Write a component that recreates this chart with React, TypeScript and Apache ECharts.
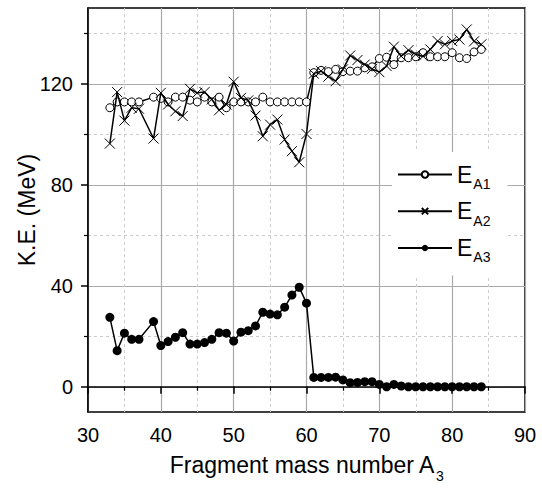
import React, { useEffect, useRef } from "react";
import * as echarts from "echarts";

// Fragment mass numbers (A = 38 is absent in the data)
const massA = [
  33, 34, 35, 36, 37, 39, 40, 41, 42, 43, 44, 45, 46, 47, 48, 49, 50, 51, 52, 53,
  54, 55, 56, 57, 58, 59, 60, 61, 62, 63, 64, 65, 66, 67, 68, 69, 70, 71, 72, 73,
  74, 75, 76, 77, 78, 79, 80, 81, 82, 83, 84,
];

const eA1 = [
  110.5, 112.8, 112.8, 112.8, 112.8, 114.7, 114.2, 112.8, 114.7, 114.7, 113.5, 112.8,
  114.7, 112.8, 114.7, 110.5, 112.8, 112.8, 112.8, 112.8, 114.7, 112.8, 112.8, 112.8,
  112.8, 112.8, 112.8, 124.4, 125.3, 124.8, 125.7, 124.8, 125.0, 125.0, 126.3, 126.7,
  130.0, 130.5, 127.6, 130.3, 130.3, 130.7, 132.3, 130.7, 130.7, 130.7, 132.3, 130.3,
  130.0, 132.6, 133.6,
];

const eA2 = [
  96.3, 116.7, 105.4, 110.5, 110.1, 98.3, 116.4, 111.8, 109.1, 107.2, 118.0, 116.4,
  116.7, 113.8, 109.5, 111.8, 120.8, 114.4, 113.4, 107.4, 99.2, 103.8, 105.8, 97.9,
  93.3, 88.9, 100.1, 124.0, 125.0, 122.8, 121.0, 125.7, 131.2, 129.4, 127.6, 125.9,
  124.6, 127.0, 134.7, 130.9, 133.3, 131.6, 130.9, 133.6, 136.9, 135.6, 136.9, 137.5,
  141.5, 136.8, 135.6,
];

const eA3 = [
  27.5, 14.3, 21.2, 18.8, 18.8, 25.8, 16.3, 17.9, 19.6, 21.4, 16.9, 16.9, 17.5, 18.8,
  21.4, 21.2, 18.1, 21.6, 22.2, 24.1, 29.5, 28.8, 28.5, 31.5, 36.3, 39.4, 33.1, 3.7,
  3.7, 3.7, 3.8, 2.7, 1.6, 1.7, 2.0, 2.0, 0.9, 0.0, 0.9, 0.3, 0, 0, 0, 0, 0, 0, 0, 0,
  0, 0, 0,
];

const seriesNames = ["EA1", "EA2", "EA3"];
const seriesSubs = ["A1", "A2", "A3"];
const yTickValues = [0, 40, 80, 120];

const FONT = "'Liberation Sans', Arial, Helvetica, sans-serif";
const CROSS = "path://M0,0L10,10M10,0L0,10";

export default function App() {
  const ref = useRef<HTMLDivElement>(null);

  useEffect(() => {
    if (!ref.current) return;
    const chart = echarts.init(ref.current, null, { renderer: "svg" });
    const pairs = (vals: number[]) => massA.map((a, i) => [a, vals[i]]);

    const option: any = {
      animation: false,
      backgroundColor: "#fff",
      textStyle: { fontFamily: FONT, color: "#000" },
      grid: {
        left: 88,
        top: 8,
        width: 437,
        height: 404,
        show: true,
        borderColor: "#000",
        borderWidth: 1.5,
        containLabel: false,
        outerBoundsMode: "none",
      },
      legend: {
        orient: "vertical",
        left: 392,
        top: 152,
        backgroundColor: "#fff",
        padding: [6, 17, 11, 5],
        itemGap: 3.7,
        itemWidth: 54,
        itemHeight: 8,
        data: seriesNames,
        formatter: (name: string) => {
          const i = seriesNames.indexOf(name);
          return `{e|E}{s|${seriesSubs[i]}}`;
        },
        textStyle: {
          fontFamily: FONT,
          color: "#000",
          rich: {
            e: { fontSize: 23, fontFamily: FONT, color: "#000", lineHeight: 23 },
            s: { fontSize: 14, fontFamily: FONT, color: "#000", lineHeight: 14, padding: [19, 0, 0, 1] },
          },
        },
      },
      xAxis: {
        type: "value",
        min: 30,
        max: 90,
        interval: 10,
        name: "{a|Fragment mass number A}{s|3}",
        nameLocation: "middle",
        nameGap: 41,
        nameMoveOverlap: false,
        nameTextStyle: {
          fontFamily: FONT,
          fontSize: 23,
          color: "#000",
          rich: {
            a: { fontSize: 23, fontFamily: FONT, color: "#000", lineHeight: 23 },
            s: { fontSize: 14, fontFamily: FONT, color: "#000", lineHeight: 14, padding: [22, 0, 0, 1] },
          },
        },
        axisLine: { show: true, lineStyle: { color: "#000", width: 1.5 } },
        axisTick: { show: true, inside: false, length: 7, lineStyle: { color: "#000", width: 1.5 } },
        minorTick: { show: true, splitNumber: 2, length: 4, lineStyle: { color: "#000", width: 1.2 } },
        axisLabel: { fontSize: 20, color: "#000", fontFamily: FONT, margin: 13 },
        splitLine: { show: true, lineStyle: { color: "#aaaaaa", width: 1.2, type: "solid" } },
        minorSplitLine: { show: true, lineStyle: { color: "#cccccc", width: 1, type: [3, 3] } },
      },
      yAxis: {
        type: "value",
        min: -10,
        max: 150,
        minInterval: 40,
        maxInterval: 40,
        name: "K.E. (MeV)",
        nameLocation: "middle",
        nameGap: 50,
        nameMoveOverlap: false,
        nameTextStyle: { fontFamily: FONT, fontSize: 23, color: "#000" },
        axisLine: { show: true, lineStyle: { color: "#000", width: 1.5 } },
        axisTick: {
          show: true,
          inside: false,
          length: 7,
          customValues: yTickValues,
          lineStyle: { color: "#000", width: 1.5 },
        },
        minorTick: { show: true, splitNumber: 2, length: 4, lineStyle: { color: "#000", width: 1.2 } },
        axisLabel: {
          fontSize: 20,
          color: "#000",
          fontFamily: FONT,
          margin: 15,
          customValues: yTickValues,
          formatter: (v: number) => (yTickValues.indexOf(v) >= 0 ? String(v) : ""),
        },
        splitLine: { show: true, lineStyle: { color: "#aaaaaa", width: 1.2, type: "solid" } },
        minorSplitLine: { show: true, lineStyle: { color: "#cccccc", width: 1, type: [3, 3] } },
      },
      series: [
        {
          name: seriesNames[0],
          type: "line",
          data: pairs(eA1),
          symbol: "circle",
          symbolSize: 8,
          z: 3,
          lineStyle: { color: "#000", width: 1.5 },
          itemStyle: { color: "#fff", borderColor: "#000", borderWidth: 1 },
        },
        {
          name: seriesNames[1],
          type: "line",
          data: pairs(eA2),
          symbol: CROSS,
          symbolSize: 10,
          z: 4,
          lineStyle: { color: "#000", width: 1.5 },
          itemStyle: { color: "#000", borderColor: "#000", borderWidth: 1 },
        },
        {
          name: seriesNames[2],
          type: "line",
          data: pairs(eA3),
          symbol: "circle",
          symbolSize: 9,
          z: 3,
          lineStyle: { color: "#000", width: 1.5 },
          itemStyle: { color: "#000" },
        },
      ],
    };

    chart.setOption(option);
    return () => chart.dispose();
  }, []);

  return (
    <div
      ref={ref}
      style={{ position: "absolute", left: 0, top: 0, width: 542, height: 492, background: "#fff" }}
    />
  );
}
